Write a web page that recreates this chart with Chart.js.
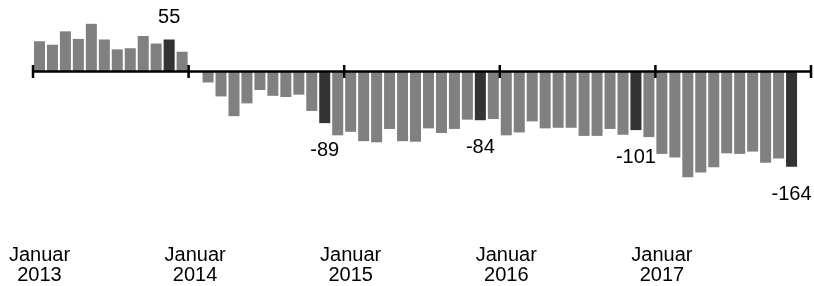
<!DOCTYPE html>
<html>
<head>
<meta charset="utf-8">
<script src="https://cdn.jsdelivr.net/npm/chart.js@4"></script>
<style>
  html, body { margin: 0; padding: 0; background: #fff; }
  #wrap { width: 814px; height: 286px; position: relative; }
</style>
</head>
<body>
<div id="wrap"><canvas id="saldoChart"></canvas></div>
<script>
// Monatswerte, Januar 2013 bis Dezember 2017
const years = ['2013', '2014', '2015', '2016', '2017'];
const values2013 = [52, 46, 69, 56, 82, 55, 38, 40, 61, 48, 55, 34];
const values2014 = [0, -19, -43, -77, -55, -32, -42, -44, -40, -68, -89, -110];
const values2015 = [-104, -120, -122, -99, -120, -121, -98, -106, -99, -83, -84, -82];
const values2016 = [-110, -105, -86, -98, -97, -97, -111, -111, -99, -109, -101, -113];
const values2017 = [-142, -148, -182, -174, -165, -141, -142, -138, -157, -150, -164, null];

const values = [].concat(values2013, values2014, values2015, values2016, values2017);
// Januar bekommt eine Beschriftung, die anderen Monate bleiben leer
const labels = [];
years.forEach(y => {
    for (let m = 0; m < 12; m++) {
        labels.push(m === 0 ? ['Januar', y] : '');
    }
});
const highlightMonth = 10; // November

const FONT = "Arial, 'Liberation Sans', sans-serif";

// Nulllinie mit Jahresstrichen + Wertebeschriftung der Novemberbalken
const axisPlugin = {
    id: 'zeroAxis',
    afterDatasetsDraw(chart) {
        const ctx = chart.ctx;
        const x = chart.scales.x;
        const y = chart.scales.y;
        const y0 = y.getPixelForValue(0);
        const half = (x.getPixelForValue(1) - x.getPixelForValue(0)) / 2;

        ctx.save();
        ctx.strokeStyle = '#000';
        ctx.lineWidth = 2.5;
        ctx.beginPath();
        ctx.moveTo(x.left, y0);
        ctx.lineTo(x.right, y0);
        for (let i = 0; i <= values.length; i += 12) {
            const px = x.getPixelForValue(i) - half;
            ctx.moveTo(px, y0 - 6.5);
            ctx.lineTo(px, y0 + 6.5);
        }
        ctx.stroke();

        ctx.fillStyle = '#000';
        ctx.font = '20px ' + FONT;
        ctx.textAlign = 'center';
        ctx.textBaseline = 'alphabetic';
        values.forEach((v, i) => {
            if (v === null || i % 12 !== highlightMonth) return;
            const px = x.getPixelForValue(i);
            const py = y.getPixelForValue(v);
            if (v >= 0) {
                ctx.fillText(String(v), px, py - 16);
            } else {
                ctx.fillText(String(v), px, py + 33);
            }
        });
        ctx.restore();
    }
};

const ctx = document.getElementById('saldoChart').getContext('2d');
new Chart(ctx, {
    type: 'bar',
    data: {
        labels: labels,
        datasets: [{
            data: values,
            backgroundColor: c => (c.dataIndex % 12 === highlightMonth ? '#333333' : '#808080'),
            borderWidth: 0,
            barPercentage: 0.85,
            categoryPercentage: 1.0
        }]
    },
    options: {
        responsive: true,
        maintainAspectRatio: false,
        animation: false,
        layout: { padding: { left: 33, right: 3, top: 0, bottom: 0 } },
        scales: {
            x: {
                grid: { display: false },
                border: { display: false },
                ticks: {
                    autoSkip: false,
                    maxRotation: 0,
                    minRotation: 0,
                    padding: 25,
                    color: '#000',
                    font: { family: FONT, size: 20, lineHeight: 1.0 }
                },
                afterFit: scale => {
                    scale.paddingLeft = 0;
                    scale.paddingRight = 0;
                    scale.height = 74;
                }
            },
            y: {
                display: false,
                min: -242,
                max: 123
            }
        },
        plugins: {
            legend: { display: false },
            tooltip: { enabled: false }
        }
    },
    plugins: [axisPlugin]
});
</script>
</body>
</html>
